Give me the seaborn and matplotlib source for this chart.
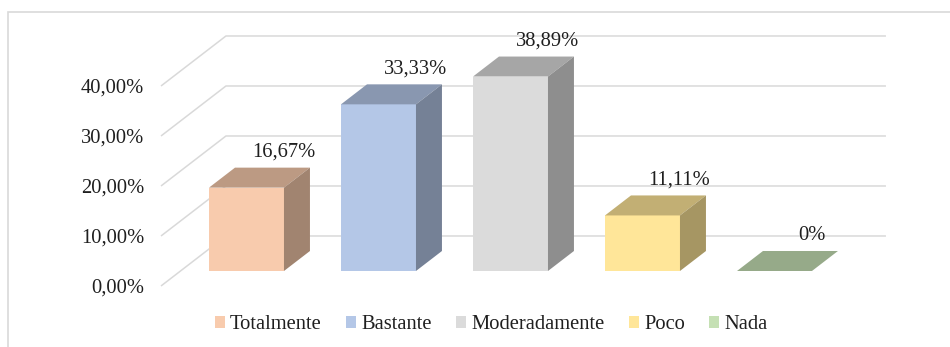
import numpy as np
import pandas as pd
import seaborn as sns
import matplotlib.pyplot as plt
from matplotlib.patches import Polygon, Patch, Rectangle
from matplotlib.colors import to_rgb

# datos
categorias = ["Totalmente", "Bastante", "Moderadamente", "Poco", "Nada"]
porcentajes = [16.67, 33.33, 38.89, 11.11, 0.0]
etiquetas = ["16,67%", "33,33%", "38,89%", "11,11%", "0%"]
ticks_y = [0, 10, 20, 30, 40]
ticks_txt = ["0,00%", "10,00%", "20,00%", "30,00%", "40,00%"]

colores = ["#F8CBAD", "#B4C7E7", "#DBDBDB", "#FFE699", "#C5E0B4"]

sns.set_theme(style="white")
plt.rcParams["font.family"] = ["Liberation Serif", "DejaVu Serif"]
texto = "#1f1f1f"
rejilla = "#D9D9D9"
fs = 14.8

# proyeccion oblicua tipo Excel 3D
prof_x, prof_y = 0.492, 10.0   # profundidad del suelo
frente = 0.3                   # cara frontal de las barras
fondo_barra = 0.7              # cara trasera de las barras
bx, by = prof_x * (fondo_barra - frente), prof_y * (fondo_barra - frente)

df = pd.DataFrame({"cat": categorias, "pct": porcentajes})

fig = plt.figure(figsize=(9.5, 3.47), dpi=100)
ax = fig.add_axes([0.1622, 0.1470, 0.7781, 0.7925])

# rejilla: linea inclinada en el suelo + linea horizontal en la pared del fondo
n = len(categorias)
for v in ticks_y:
    xs = [-0.5 - prof_x * frente, -0.5 + prof_x * (1 - frente), n - 0.5 + prof_x * (1 - frente)]
    ys = [v - prof_y * frente, v + prof_y * (1 - frente), v + prof_y * (1 - frente)]
    ax.plot(xs, ys, color=rejilla, lw=1.1, zorder=1, solid_capstyle="butt")

sns.barplot(data=df, x="cat", y="pct", hue="cat", order=categorias, hue_order=categorias,
            palette=colores, saturation=1, width=0.568, legend=False,
            edgecolor="none", linewidth=0, zorder=3, ax=ax)

# caras superior y lateral
for p, c in zip(ax.patches, colores):
    x0, w, h = p.get_x(), p.get_width(), p.get_height()
    x1 = x0 + w
    rgb = np.array(to_rgb(c))
    arriba = Polygon([(x0, h), (x1, h), (x1 + bx, h + by), (x0 + bx, h + by)],
                     closed=True, facecolor=rgb * 0.76, edgecolor="none", zorder=3)
    ax.add_patch(arriba)
    if h > 0:
        lado = Polygon([(x1, 0), (x1, h), (x1 + bx, h + by), (x1 + bx, by)],
                       closed=True, facecolor=rgb * 0.65, edgecolor="none", zorder=3)
        ax.add_patch(lado)

for i, (v, t) in enumerate(zip(porcentajes, etiquetas)):
    ax.text(i + 0.28, v + 6.2, t, ha="center", va="baseline", fontsize=fs, color=texto, zorder=4)

ax.set_xlim(-0.70, 4.90)
ax.set_ylim(-5, 50)
ax.set_xticks([])
ax.set_yticks([v - prof_y * frente for v in ticks_y], ticks_txt)
ax.tick_params(axis="y", length=0, pad=7, labelsize=fs, labelcolor=texto)
ax.set_xlabel("")
ax.set_ylabel("")
for s in ax.spines.values():
    s.set_visible(False)

handles = [Patch(facecolor=c, edgecolor="none", label=l) for c, l in zip(colores, categorias)]
leg = fig.legend(handles=handles, loc="center", bbox_to_anchor=(0.517, 0.064), ncol=5,
                 frameon=False, handlelength=0.51, handleheight=0.51, handletextpad=0.24,
                 columnspacing=1.17, fontsize=fs, borderpad=0, borderaxespad=0)
for t in leg.get_texts():
    t.set_color(texto)

# marco del grafico
fig.add_artist(Rectangle((8 / 950, -0.1), 1.2, 0.1 + 1 - 12 / 347, transform=fig.transFigure,
                         fill=False, edgecolor=rejilla, lw=1.2))

fig.savefig("out.png", dpi=100)
